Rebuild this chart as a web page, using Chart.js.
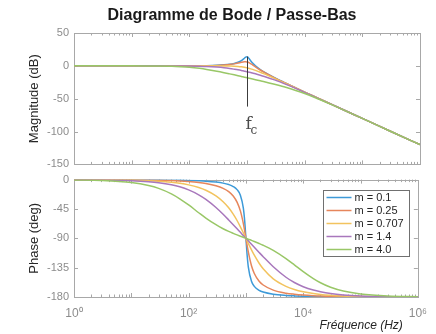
<!DOCTYPE html>
<html>
<head>
<meta charset="utf-8">
<script src="https://cdn.jsdelivr.net/npm/chart.js@4.4.0/dist/chart.umd.min.js"></script>
<style>
  body { margin: 0; background: #fff; }
  #wrap { position: relative; width: 436px; height: 334px; }
  canvas { position: absolute; left: 0; }
  #mag { top: 0; }
  #phase { top: 168px; }
</style>
</head>
<body>
<div id="wrap">
  <canvas id="mag" width="436" height="176"></canvas>
  <canvas id="phase" width="436" height="166"></canvas>
</div>
<script>
const chartTitle = 'Diagramme de Bode / Passe-Bas'
const seriesLabels = ['m = 0.1', 'm = 0.25', 'm = 0.707', 'm = 1.4', 'm = 4.0']
const seriesColors = ['#3d9ad8', '#e6865c', '#f2c35e', '#a877bc', '#99c767']

// frequency samples (Hz)
const freqs = [1, 3, 10, 20, 30, 50, 70, 100, 150, 200, 300, 400, 500, 600, 700, 800, 900, 950, 1000,
  1050, 1100, 1250, 1400, 1700, 2000, 3000, 5000, 7000, 10000, 15000, 20000, 30000, 50000, 100000, 300000, 1000000]

// magnitude (dB)
const mag_m01 = [0, 0, 0, 0, 0, 0, 0, 0.1, 0.2, 0.3, 0.8, 1.5, 2.4, 3.7, 5.5, 8.1, 11.6, 13.4, 14.0,
  12.6, 10.3, 4.2, 0.0, -5.7, -9.6, -18.1, -27.6, -33.6, -39.9, -47.0, -52.0, -59.1, -68.0, -80.0, -99.1, -120.0]
const mag_m025 = [0, 0, 0, 0, 0, 0, 0, 0.1, 0.2, 0.3, 0.7, 1.3, 2.0, 3.0, 4.2, 5.4, 6.2, 6.3, 6.0,
  5.4, 4.6, 1.5, -1.5, -6.3, -10.0, -18.2, -27.7, -33.6, -39.9, -47.0, -52.0, -59.1, -68.0, -80.0, -99.1, -120.0]
const mag_m0707 = [0, 0, 0, 0, 0, 0, 0, 0, 0, 0, 0, -0.1, -0.3, -0.5, -0.9, -1.5, -2.2, -2.6, -3.0,
  -3.5, -3.9, -5.4, -6.9, -9.7, -12.3, -19.1, -28.0, -33.8, -40.0, -47.0, -52.0, -59.1, -68.0, -80.0, -99.1, -120.0]
const mag_m14 = [0, 0, 0, 0, 0, -0.1, -0.1, -0.2, -0.5, -0.9, -1.9, -2.9, -4.0, -5.1, -6.1, -7.1, -8.1, -8.5, -8.9,
  -9.4, -9.8, -11.0, -12.1, -14.2, -16.1, -21.3, -28.9, -34.3, -40.3, -47.2, -52.1, -59.1, -68.0, -80.0, -99.1, -120.0]
const mag_m4 = [0, 0, 0, -0.1, -0.2, -0.6, -1.2, -2.1, -3.8, -5.4, -8.2, -10.4, -12.2, -13.7, -15.0, -16.1, -17.2, -17.6, -18.1,
  -18.5, -18.9, -20.0, -21.0, -22.8, -24.2, -28.1, -33.4, -37.4, -42.1, -48.1, -52.7, -59.4, -68.1, -80.0, -99.1, -120.0]

// phase (deg)
const ph_m01 = [0, 0, -0.1, -0.2, -0.3, -0.6, -0.8, -1.2, -1.8, -2.4, -3.8, -5.4, -7.6, -10.6, -15.4, -24.0, -43.5, -62.8, -90,
  -116.0, -133.7, -156.0, -163.7, -169.8, -172.4, -175.7, -177.6, -178.3, -178.8, -179.2, -179.4, -179.6, -179.8, -179.9, -180, -180]
const ph_m025 = [0, -0.1, -0.3, -0.6, -0.9, -1.4, -2.0, -2.9, -4.4, -6.0, -9.4, -13.4, -18.4, -25.1, -34.5, -48.0, -67.1, -78.4, -90,
  -101.1, -110.9, -132.0, -143.9, -155.8, -161.6, -169.4, -174.1, -175.8, -177.1, -178.1, -178.6, -179.0, -179.4, -179.7, -179.9, -180]
const ph_m0707 = [-0.1, -0.2, -0.8, -1.6, -2.4, -4.1, -5.7, -8.1, -12.2, -16.4, -25.0, -34.0, -43.3, -53.0, -62.7, -72.4, -81.5, -85.9, -90,
  -94.0, -97.7, -107.7, -115.9, -128.2, -136.7, -152.1, -163.6, -168.4, -171.9, -174.6, -176.0, -177.3, -178.4, -179.2, -179.7, -179.9]
const ph_m14 = [-0.2, -0.5, -1.6, -3.2, -4.8, -8.0, -11.1, -15.8, -23.3, -30.3, -42.7, -53.1, -61.8, -69.1, -75.4, -80.9, -85.7, -87.9, -90,
  -92.0, -93.9, -99.1, -103.8, -111.7, -118.2, -133.6, -149.7, -157.8, -164.2, -169.4, -172.0, -174.7, -176.8, -178.4, -179.5, -179.8]
const ph_m4 = [-0.5, -1.4, -4.6, -9.1, -13.5, -21.9, -29.4, -38.9, -50.8, -59.0, -69.2, -75.3, -79.4, -82.4, -84.8, -86.8, -88.5, -89.3, -90,
  -90.7, -91.4, -93.2, -94.9, -97.9, -100.6, -108.4, -121.0, -130.6, -141.1, -151.8, -158.2, -165.1, -170.9, -175.4, -178.5, -179.5]

const magTicks = [-150, -100, -50, 0, 50]
const phaseTicks = [-180, -135, -90, -45, 0]
const xTickValues = [1, 100, 10000, 1000000]
const fcFreq = 1000

const magnitudes = [mag_m01, mag_m025, mag_m0707, mag_m14, mag_m4]
const phases = [ph_m01, ph_m025, ph_m0707, ph_m14, ph_m4]
const sup = { 0: '\u2070', 2: '\u00b2', 4: '\u2074', 6: '\u2076' }

Chart.defaults.font.family = "'Liberation Sans', Arial, sans-serif"
Chart.defaults.color = '#8c8c8c'

function makeSets(arrs) {
  return arrs.map((arr, i) => ({
    label: seriesLabels[i],
    data: freqs.map((f, k) => ({ x: f, y: arr[k] })),
    borderColor: seriesColors[i],
    backgroundColor: seriesColors[i],
    order: arrs.length - i,
  }))
}

// matlab style box with inward ticks
const frame = {
  id: 'frame',
  beforeDatasetsDraw(chart) {
    const { ctx, chartArea: a, scales } = chart
    const x = scales.x, y = scales.y
    ctx.save()
    ctx.strokeStyle = '#a8a8a8'
    ctx.lineWidth = 1
    ctx.beginPath()
    for (let k = 0; k < 6; k++) {
      for (let d = 1; d < 10; d++) {
        const px = Math.round(x.getPixelForValue(d * Math.pow(10, k))) + 0.5
        const len = d === 1 ? 4 : 2.5
        ctx.moveTo(px, a.top); ctx.lineTo(px, a.top + len)
        ctx.moveTo(px, a.bottom); ctx.lineTo(px, a.bottom - len)
      }
    }
    y.ticks.forEach(t => {
      const py = Math.round(y.getPixelForValue(t.value)) + 0.5
      ctx.moveTo(a.left, py); ctx.lineTo(a.left + 4, py)
      ctx.moveTo(a.right, py); ctx.lineTo(a.right - 4, py)
    })
    ctx.stroke()
    ctx.strokeRect(Math.round(a.left) + 0.5, Math.round(a.top) + 0.5,
      Math.round(a.right - a.left), Math.round(a.bottom - a.top))
    ctx.restore()
  }
}

// title + f_c marker on magnitude plot
const fcMark = {
  id: 'fcMark',
  afterDatasetsDraw(chart) {
    const { ctx, scales } = chart
    const px = Math.round(scales.x.getPixelForValue(fcFreq)) + 0.5
    ctx.save()
    ctx.fillStyle = '#1a1a1a'
    ctx.textAlign = 'center'
    ctx.textBaseline = 'middle'
    ctx.font = "bold 16px 'Liberation Sans', Arial, sans-serif"
    ctx.fillText(chartTitle, 232, 16)
    ctx.textAlign = 'left'
    ctx.strokeStyle = '#3c3c3c'
    ctx.lineWidth = 1
    ctx.beginPath()
    ctx.moveTo(px, scales.y.getPixelForValue(14))
    ctx.lineTo(px, scales.y.getPixelForValue(-62))
    ctx.stroke()
    ctx.fillStyle = '#4a4a4a'
    ctx.textBaseline = 'alphabetic'
    ctx.font = "17px 'DejaVu Serif', serif"
    ctx.fillText('f', px - 2, 129)
    ctx.font = "12px 'DejaVu Serif', serif"
    ctx.fillText('c', px + 3, 134)
    ctx.restore()
  }
}

// legend box + x title on phase plot
const phaseExtras = {
  id: 'phaseExtras',
  afterDatasetsDraw(chart) {
    const { ctx, chartArea: a } = chart
    const lx = Math.round(a.right) - 95 + 0.5, ly = Math.round(a.top) + 10 + 0.5
    ctx.save()
    ctx.fillStyle = '#fff'
    ctx.fillRect(lx, ly, 86, 66)
    ctx.strokeStyle = '#707070'
    ctx.lineWidth = 1
    ctx.strokeRect(lx, ly, 86, 66)
    ctx.font = "11px 'Liberation Sans', Arial, sans-serif"
    ctx.textBaseline = 'middle'
    chart.data.datasets.forEach((ds, i) => {
      const cy = ly + 7 + i * 13
      ctx.strokeStyle = ds.borderColor
      ctx.lineWidth = 1.5
      ctx.beginPath()
      ctx.moveTo(lx + 3, cy); ctx.lineTo(lx + 28, cy)
      ctx.stroke()
      ctx.fillStyle = '#262626'
      ctx.fillText(ds.label, lx + 31, cy + 0.5)
    })
    ctx.font = "italic 12px 'Liberation Sans', Arial, sans-serif"
    ctx.textAlign = 'right'
    ctx.fillStyle = '#262626'
    ctx.fillText('Fréquence (Hz)', a.right - 15, 158)
    ctx.restore()
  }
}

const baseElements = {
  point: { radius: 0 },
  line: { borderWidth: 1.5, cubicInterpolationMode: 'monotone' }
}

function yScale(min, max, step, title) {
  return {
    min: min,
    max: max,
    ticks: { stepSize: step, padding: 5, font: { size: 11 }, color: '#8c8c8c' },
    grid: { display: false, drawTicks: false },
    border: { display: false },
    title: { display: true, text: title, color: '#262626', font: { size: 13 }, padding: { top: 27, bottom: 0 } },
    afterFit: ax => { ax.width = 74 },
  }
}

const magChart = new Chart(document.getElementById('mag'), {
  type: 'line',
  data: { datasets: makeSets(magnitudes) },
  options: {
    responsive: false,
    animation: false,
    devicePixelRatio: 1,
    layout: { padding: { left: 0, right: 16, top: 33, bottom: 9 } },
    elements: baseElements,
    plugins: {
      legend: { display: false },
      tooltip: { enabled: false },
    },
    scales: {
      x: { type: 'logarithmic', min: 1, max: 1e6, display: false },
      y: yScale(magTicks[0], magTicks[magTicks.length - 1], 50, 'Magnitude (dB)'),
    },
  },
  plugins: [frame, fcMark],
});

const phaseChart = new Chart(document.getElementById('phase'), {
  type: 'line',
  data: { datasets: makeSets(phases) },
  options: {
    responsive: false,
    animation: false,
    devicePixelRatio: 1,
    layout: { padding: { left: 0, right: 16, top: 11, bottom: 0 } },
    elements: baseElements,
    plugins: {
      legend: { display: false },
      tooltip: { enabled: false },
    },
    scales: {
      x: {
        type: 'logarithmic',
        min: 1,
        max: 1e6,
        grid: { display: false, drawTicks: false },
        border: { display: false },
        ticks: {
          autoSkip: false,
          maxRotation: 0,
          padding: 9,
          font: { size: 12 },
          color: '#8c8c8c',
          callback: v => '10' + sup[Math.round(Math.log10(v))],
        },
        afterBuildTicks: ax => { ax.ticks = xTickValues.map(v => ({ value: v })) },
        afterFit: ax => { ax.height = 37 },
      },
      y: yScale(phaseTicks[0], phaseTicks[phaseTicks.length - 1], 45, 'Phase (deg)'),
    },
  },
  plugins: [frame, phaseExtras],
});
</script>
</body>
</html>
